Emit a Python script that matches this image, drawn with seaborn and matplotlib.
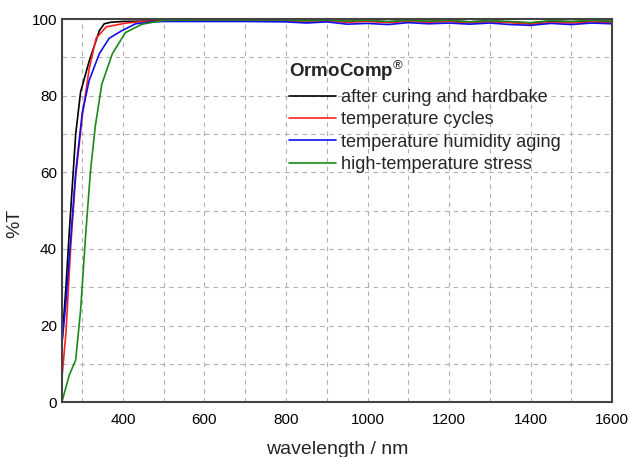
import matplotlib
matplotlib.use("Agg")
import matplotlib.pyplot as plt
import seaborn as sns
import pandas as pd
from matplotlib.ticker import MultipleLocator

sns.set_style("white")
plt.rcParams['font.family'] = ['Liberation Sans', 'DejaVu Sans']
plt.rcParams['mathtext.fontset'] = 'custom'
plt.rcParams['mathtext.rm'] = 'Liberation Sans'
plt.rcParams['mathtext.bf'] = 'Liberation Sans:bold'

series_names = ["after curing and hardbake", "temperature cycles",
                "temperature humidity aging", "high-temperature stress"]
colors = ["#000000", "#ff2020", "#1010ee", "#1a8a1a"]

tail_wl = [500, 600, 700, 800, 850, 900, 950, 1000, 1050, 1100, 1150, 1200,
           1250, 1300, 1350, 1400, 1450, 1500, 1550, 1600]

black_wl = [250, 260, 268, 276, 284, 296, 317, 342, 354, 370, 400, 450] + tail_wl
black_T = [15, 30, 44, 57, 70, 81, 89, 97, 98.8, 99.2, 99.4, 99.5,
           99.6, 99.6, 99.6, 99.6, 99.5, 99.7, 99.4, 99.6, 99.3, 99.6, 99.4, 99.6,
           99.3, 99.6, 99.2, 99.0, 99.5, 99.3, 99.6, 99.4]

red_wl = [250, 260, 272, 284, 300, 317, 334, 359, 408, 450] + tail_wl
red_T = [6, 18, 41, 59, 74.5, 87, 95, 98, 99, 99.4,
         99.5, 99.5, 99.5, 99.5, 99.3, 99.5, 99.2, 99.4, 99.1, 99.4, 99.2, 99.4,
         99.0, 99.3, 99.1, 98.7, 99.2, 99.0, 99.3, 99.1]

blue_wl = [250, 260, 272, 284, 300, 317, 342, 366, 397, 431, 470] + tail_wl
blue_T = [15, 26, 43, 60, 75.5, 84, 91, 95, 97, 98.8, 99.3,
          99.4, 99.4, 99.4, 99.3, 99.0, 99.3, 98.7, 98.9, 98.6, 99.1, 98.8, 99.0,
          98.7, 99.0, 98.6, 98.4, 98.9, 98.6, 99.0, 98.8]

green_wl = [250, 268, 284, 296, 308, 320, 332, 348, 374, 406, 447, 490] + tail_wl
green_T = [0, 7, 11, 24, 43, 60, 72, 83, 91, 96.5, 98.7, 99.5,
           99.7, 99.8, 99.8, 99.8, 99.6, 99.8, 99.5, 99.7, 99.4, 99.7, 99.5, 99.7,
           99.3, 99.6, 99.4, 99.1, 99.6, 99.4, 99.7, 99.5]

frames = []
for name, wl, T in zip(series_names, [black_wl, red_wl, blue_wl, green_wl],
                       [black_T, red_T, blue_T, green_T]):
    frames.append(pd.DataFrame({"wavelength": wl, "T": T, "series": name}))
df = pd.concat(frames, ignore_index=True)

fig = plt.figure(figsize=(6.31, 4.57), dpi=100)
ax = fig.add_axes([0.098, 0.120, 0.872, 0.838])

sns.lineplot(data=df, x="wavelength", y="T", hue="series", hue_order=series_names,
             palette=colors, linewidth=1.2, ax=ax, sort=False, estimator=None)

ax.set_xlim(250, 1600)
ax.set_ylim(0, 100)
ax.xaxis.set_major_locator(MultipleLocator(200))
ax.xaxis.set_minor_locator(MultipleLocator(100))
ax.yaxis.set_major_locator(MultipleLocator(20))
ax.yaxis.set_minor_locator(MultipleLocator(10))
ax.grid(which="both", linestyle=(0, (4, 4)), color="#b0b0b0", linewidth=0.8)
ax.tick_params(which="major", direction="in", length=6, width=1.2, labelsize=11,
               colors="#333333", labelcolor="black")
ax.tick_params(which="minor", direction="in", length=3, width=1.0, colors="#333333")
ax.tick_params(axis="x", pad=8)
for s in ax.spines.values():
    s.set_color("#444444")
    s.set_linewidth(1.5)

ax.set_xlabel("wavelength / nm", fontsize=14, labelpad=10)
ax.set_ylabel("%T", fontsize=14)
ax.yaxis.set_label_coords(-0.071, 0.467)

leg = ax.legend(title=r"$\mathbf{OrmoComp}^{®}$", loc="upper left",
                bbox_to_anchor=(0.4135, 0.897), frameon=False, fontsize=13.1,
                title_fontsize=13.5, handlelength=2.58, handletextpad=0.27,
                labelspacing=0.3, alignment="left", borderaxespad=0,
                borderpad=0)
for line in leg.get_lines():
    line.set_linewidth(1.2)

fig.savefig("out.png", dpi=100)
